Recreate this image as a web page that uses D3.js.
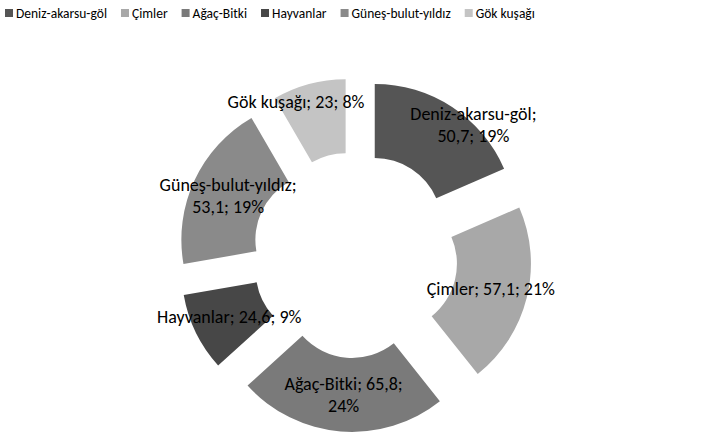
<!DOCTYPE html>
<html>
<head>
<meta charset="utf-8">
<script src="https://cdn.jsdelivr.net/npm/d3@7"></script>
<style>
  body { margin: 0; background: #fff; }
  text { font-family: Carlito, Calibri, Lato, sans-serif; fill: #000; }
</style>
</head>
<body>
<div id="chart"></div>
<script>
// categories and values
var categories = ["Deniz-akarsu-göl", "Çimler", "Ağaç-Bitki", "Hayvanlar", "Güneş-bulut-yıldız", "Gök kuşağı"];
var values = [50.7, 57.1, 65.8, 24.6, 53.1, 23];
var percents = ["19%", "21%", "24%", "9%", "19%", "8%"];

var colors = ["#555555", "#a8a8a8", "#7a7a7a", "#474747", "#8a8a8a", "#c4c4c4"];

// where the label wraps (after which part) and label nudges [extra radius, extra degrees]
var labelBreak = [1, 0, 2, 0, 1, 0];
var labelNudge = [[36, 9], [0, 0], [0, 0], [0, 0], [0, 0], [24, -6]];

var width = 716, height = 436;
var cx = 355, cy = 255,
    outerR = 141, innerR = 67, explode = 36;

var svg = d3.select("#chart")
  .append("svg")
    .attr("width", width)
    .attr("height", height);

var fmt = function(v) { return String(v).replace(".", ","); };

var data = categories.map(function(c, i) {
  return {name: c, value: values[i], pct: percents[i], i: i};
});

var pie = d3.pie()
  .sort(null)
  .value(function(d) { return d.value; });

var arc = d3.arc()
  .innerRadius(innerR)
  .outerRadius(outerR);

var arcs = pie(data);

var g = svg.append("g")
  .attr("transform", "translate(" + cx + "," + cy + ")");

function offset(d) {
  var a = (d.startAngle + d.endAngle) / 2;
  return [Math.sin(a) * explode, -Math.cos(a) * explode];
}

g.selectAll("path")
  .data(arcs)
  .enter()
  .append("path")
    .attr("d", arc)
    .attr("fill", function(d) { return colors[d.data.i]; })
    .attr("transform", function(d) {
      var o = offset(d);
      return "translate(" + o[0] + "," + o[1] + ")";
    });

// data labels
var labels = g.selectAll(".label")
  .data(arcs)
  .enter()
  .append("text")
    .attr("class", "label")
    .attr("text-anchor", "middle")
    .style("font-size", "18px")
    .attr("transform", function(d) {
      var n = labelNudge[d.data.i];
      var a = (d.startAngle + d.endAngle) / 2 + n[1] * Math.PI / 180;
      var r = explode + (innerR + outerR) / 2 + n[0];
      return "translate(" + (Math.sin(a) * r) + "," + (-Math.cos(a) * r) + ")";
    });

labels.each(function(d) {
  var parts = [d.data.name + ";", fmt(d.data.value) + ";", d.data.pct];
  var b = labelBreak[d.data.i];
  var lines = b === 0 ? [parts.join(" ")] : [parts.slice(0, b).join(" "), parts.slice(b).join(" ")];
  var t = d3.select(this);
  var lh = 22;
  lines.forEach(function(l, k) {
    t.append("tspan")
      .attr("x", 0)
      .attr("y", (k - (lines.length - 1) / 2) * lh)
      .attr("dy", "0.35em")
      .text(l);
  });
});

// legend
var legend = svg.append("g").attr("transform", "translate(5,13)");
var lx = 0;
data.forEach(function(d) {
  var item = legend.append("g").attr("transform", "translate(" + lx + ",0)");
  item.append("rect")
    .attr("x", 0).attr("y", -4)
    .attr("width", 8).attr("height", 8)
    .attr("fill", colors[d.i]);
  var t = item.append("text")
    .attr("x", 11)
    .attr("dy", "0.35em")
    .style("font-size", "13.5px")
    .text(d.name);
  lx += 11 + t.node().getComputedTextLength() + 14;
});
</script>
</body>
</html>
